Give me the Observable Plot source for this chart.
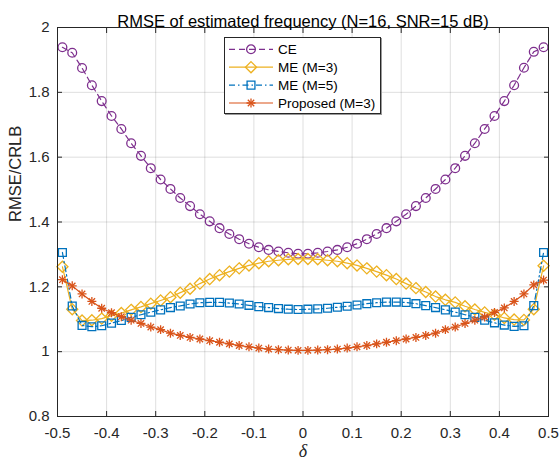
<!DOCTYPE html>
<html>
<head>
<meta charset="utf-8">
<script src="https://cdn.jsdelivr.net/npm/d3@7"></script>
<script src="https://cdn.jsdelivr.net/npm/@observablehq/plot@0.6"></script>
<style>
  html, body { margin: 0; padding: 0; background: #fff; }
  #wrap { position: relative; width: 560px; height: 463px; }
</style>
</head>
<body>
<div id="wrap"></div>
<script>
const titleText = "RMSE of estimated frequency (N=16, SNR=15 dB)";
const yLabel = "RMSE/CRLB";
const xLabel = "δ";

const delta = [-0.49,-0.47,-0.45,-0.43,-0.41,-0.39,-0.37,-0.35,-0.33,-0.31,-0.29,-0.27,-0.25,-0.23,-0.21,-0.19,-0.17,-0.15,-0.13,-0.11,-0.09,-0.07,-0.05,-0.03,-0.01,
               0.01,0.03,0.05,0.07,0.09,0.11,0.13,0.15,0.17,0.19,0.21,0.23,0.25,0.27,0.29,0.31,0.33,0.35,0.37,0.39,0.41,0.43,0.45,0.47,0.49];

const ce = [1.939,1.922,1.875,1.822,1.773,1.727,1.687,1.643,1.604,1.566,1.531,1.502,1.474,1.449,1.424,1.402,1.381,1.363,1.347,1.333,1.322,1.314,1.309,1.305,1.302,
            1.302,1.305,1.309,1.314,1.322,1.333,1.347,1.363,1.381,1.402,1.424,1.449,1.474,1.502,1.531,1.566,1.604,1.643,1.687,1.727,1.773,1.822,1.876,1.925,1.939];

const me3 = [1.262,1.131,1.096,1.097,1.102,1.111,1.119,1.129,1.138,1.148,1.158,1.168,1.182,1.194,1.210,1.224,1.236,1.247,1.257,1.266,1.273,1.279,1.282,1.285,1.286,
             1.286,1.285,1.282,1.279,1.273,1.266,1.257,1.247,1.236,1.224,1.210,1.196,1.184,1.170,1.160,1.152,1.140,1.130,1.121,1.114,1.104,1.099,1.098,1.131,1.265];

const me5 = [1.306,1.141,1.081,1.077,1.080,1.088,1.096,1.106,1.114,1.122,1.129,1.136,1.141,1.147,1.151,1.152,1.152,1.150,1.147,1.143,1.139,1.136,1.133,1.131,1.130,
             1.131,1.132,1.134,1.137,1.140,1.144,1.148,1.151,1.153,1.153,1.152,1.148,1.142,1.136,1.129,1.122,1.114,1.106,1.097,1.089,1.082,1.078,1.080,1.142,1.306];

const proposed = [1.222,1.203,1.178,1.155,1.134,1.120,1.108,1.097,1.087,1.076,1.068,1.057,1.050,1.044,1.039,1.034,1.029,1.024,1.019,1.015,1.011,1.008,1.006,1.005,1.004,
                  1.004,1.005,1.006,1.008,1.011,1.015,1.019,1.024,1.029,1.034,1.039,1.044,1.050,1.057,1.068,1.076,1.087,1.097,1.107,1.121,1.135,1.155,1.178,1.206,1.221];

const seriesNames = ["CE", "ME (M=3)", "ME (M=5)", "Proposed (M=3)"];
const seriesColors = ["#7E2F8E", "#EDB120", "#0072BD", "#D95319"];

const xTicks = [-0.5,-0.4,-0.3,-0.2,-0.1,0,0.1,0.2,0.3,0.4,0.5];
const xTickLabels = ["-0.5","-0.4","-0.3","-0.2","-0.1","0","0.1","0.2","0.3","0.4","0.5"];
const yTicks = [0.8,1,1.2,1.4,1.6,1.8,2];
const yTickLabels = ["0.8","1","1.2","1.4","1.6","1.8","2"];

const rows = (vals) => delta.map((d, i) => ({delta: d, v: vals[i]}));
const dCE = rows(ce), dME3 = rows(me3), dME5 = rows(me5), dP = rows(proposed);

const axisColor = "#262626";
const font = "'Liberation Sans', Arial, Helvetica, sans-serif";

const chart = Plot.plot({
  width: 560,
  height: 463,
  marginLeft: 57,
  marginRight: 12,
  marginTop: 27,
  marginBottom: 47,
  style: {fontFamily: font, fontSize: "15px", background: "#fff", color: axisColor, overflow: "visible"},
  x: {domain: [-0.5, 0.5]},
  y: {domain: [0.8, 2]},
  marks: [
    Plot.gridX(xTicks, {stroke: axisColor, strokeOpacity: 0.15, strokeWidth: 1}),
    Plot.gridY(yTicks, {stroke: axisColor, strokeOpacity: 0.15, strokeWidth: 1}),
    // series
    Plot.line(dCE, {x: "delta", y: "v", stroke: seriesColors[0], strokeWidth: 1.2, strokeDasharray: "6,4"}),
    Plot.dot(dCE, {x: "delta", y: "v", symbol: "circle", r: 4.4, stroke: seriesColors[0], fill: "none", strokeWidth: 1.3}),
    Plot.line(dME3, {x: "delta", y: "v", stroke: seriesColors[1], strokeWidth: 1.2}),
    Plot.dot(dME3, {x: "delta", y: "v", symbol: "diamond2", r: 5, stroke: seriesColors[1], fill: "none", strokeWidth: 1.3}),
    Plot.line(dME5, {x: "delta", y: "v", stroke: seriesColors[2], strokeWidth: 1.2, strokeDasharray: "6,3,1.5,3"}),
    Plot.dot(dME5, {x: "delta", y: "v", symbol: "square2", r: 5, stroke: seriesColors[2], fill: "none", strokeWidth: 1.3}),
    Plot.line(dP, {x: "delta", y: "v", stroke: seriesColors[3], strokeWidth: 1.2}),
    Plot.dot(dP, {x: "delta", y: "v", symbol: "plus", r: 3, stroke: seriesColors[3], fill: "none", strokeWidth: 1.3}),
    Plot.dot(dP, {x: "delta", y: "v", symbol: "times", r: 3, stroke: seriesColors[3], fill: "none", strokeWidth: 1.3}),
    // frame and inward ticks
    Plot.frame({stroke: axisColor, strokeWidth: 1}),
    Plot.axisX(xTicks, {anchor: "bottom", tickSize: -5, tickFormat: () => "", label: null, stroke: axisColor}),
    Plot.axisX(xTicks, {anchor: "top", tickSize: -5, tickFormat: () => "", label: null, stroke: axisColor}),
    Plot.axisY(yTicks, {anchor: "left", tickSize: -5, tickFormat: () => "", label: null, stroke: axisColor}),
    Plot.axisY(yTicks, {anchor: "right", tickSize: -5, tickFormat: () => "", label: null, stroke: axisColor}),
    // tick labels
    Plot.axisX(xTicks, {anchor: "bottom", tickSize: 0, tickPadding: 11, fontSize: 15, label: null,
      tickFormat: (d) => xTickLabels[xTicks.indexOf(d)], fill: axisColor}),
    Plot.axisY(yTicks, {anchor: "left", tickSize: 0, tickPadding: 8, fontSize: 15, label: null,
      tickFormat: (d) => yTickLabels[yTicks.indexOf(d)], fill: axisColor}),
    // titles
    Plot.text([titleText], {frameAnchor: "top", dy: -12, fontSize: 16.5, fill: "#000"}),
    Plot.text([yLabel], {frameAnchor: "left", rotate: -90, dx: -42, fontSize: 16.5, fill: axisColor}),
    Plot.text([xLabel], {frameAnchor: "bottom", dy: 40, fontSize: 18, fontStyle: "italic", fontFamily: "'Liberation Serif', 'DejaVu Serif', serif", fill: axisColor})
  ]
});

const wrap = document.getElementById("wrap");
wrap.appendChild(chart);

// Legend overlay
const lg = d3.create("svg")
  .attr("width", 560).attr("height", 463)
  .style("position", "absolute").style("left", "0px").style("top", "0px")
  .style("pointer-events", "none");

const bx = 224, by = 37, bw = 156, bh = 76;
lg.append("rect").attr("x", bx + 1.5).attr("y", by + 1.5).attr("width", bw).attr("height", bh)
  .attr("fill", "none").attr("stroke", "#9a9a9a").attr("stroke-width", 1);
lg.append("rect").attr("x", bx + 0.5).attr("y", by + 0.5).attr("width", bw).attr("height", bh)
  .attr("fill", "#fff").attr("stroke", axisColor).attr("stroke-width", 1);

const dashes = ["6,4", null, "6,3,1.5,3", null];
const symbols = [
  [[d3.symbolCircle, 4.4]],
  [[d3.symbolDiamond2, 5]],
  [[d3.symbolSquare2, 5]],
  [[d3.symbolPlus, 3], [d3.symbolTimes, 3]]
];
seriesNames.forEach((name, i) => {
  const cy = by + 12.3 + i * 17.9;
  const g = lg.append("g");
  const ln = g.append("line").attr("x1", bx + 5).attr("x2", bx + 49).attr("y1", cy).attr("y2", cy)
    .attr("stroke", seriesColors[i]).attr("stroke-width", 1.2);
  if (dashes[i]) ln.attr("stroke-dasharray", dashes[i]);
  symbols[i].forEach(([sym, r]) => {
    g.append("path").attr("d", d3.symbol(sym, Math.PI * r * r)())
      .attr("transform", `translate(${bx + 27},${cy})`)
      .attr("fill", "none").attr("stroke", seriesColors[i]).attr("stroke-width", 1.3);
  });
  g.append("text").attr("x", bx + 54).attr("y", cy).attr("dy", "0.35em")
    .attr("font-family", font).attr("font-size", 13.5).attr("fill", "#000").text(name);
});
wrap.appendChild(lg.node());
</script>
</body>
</html>
